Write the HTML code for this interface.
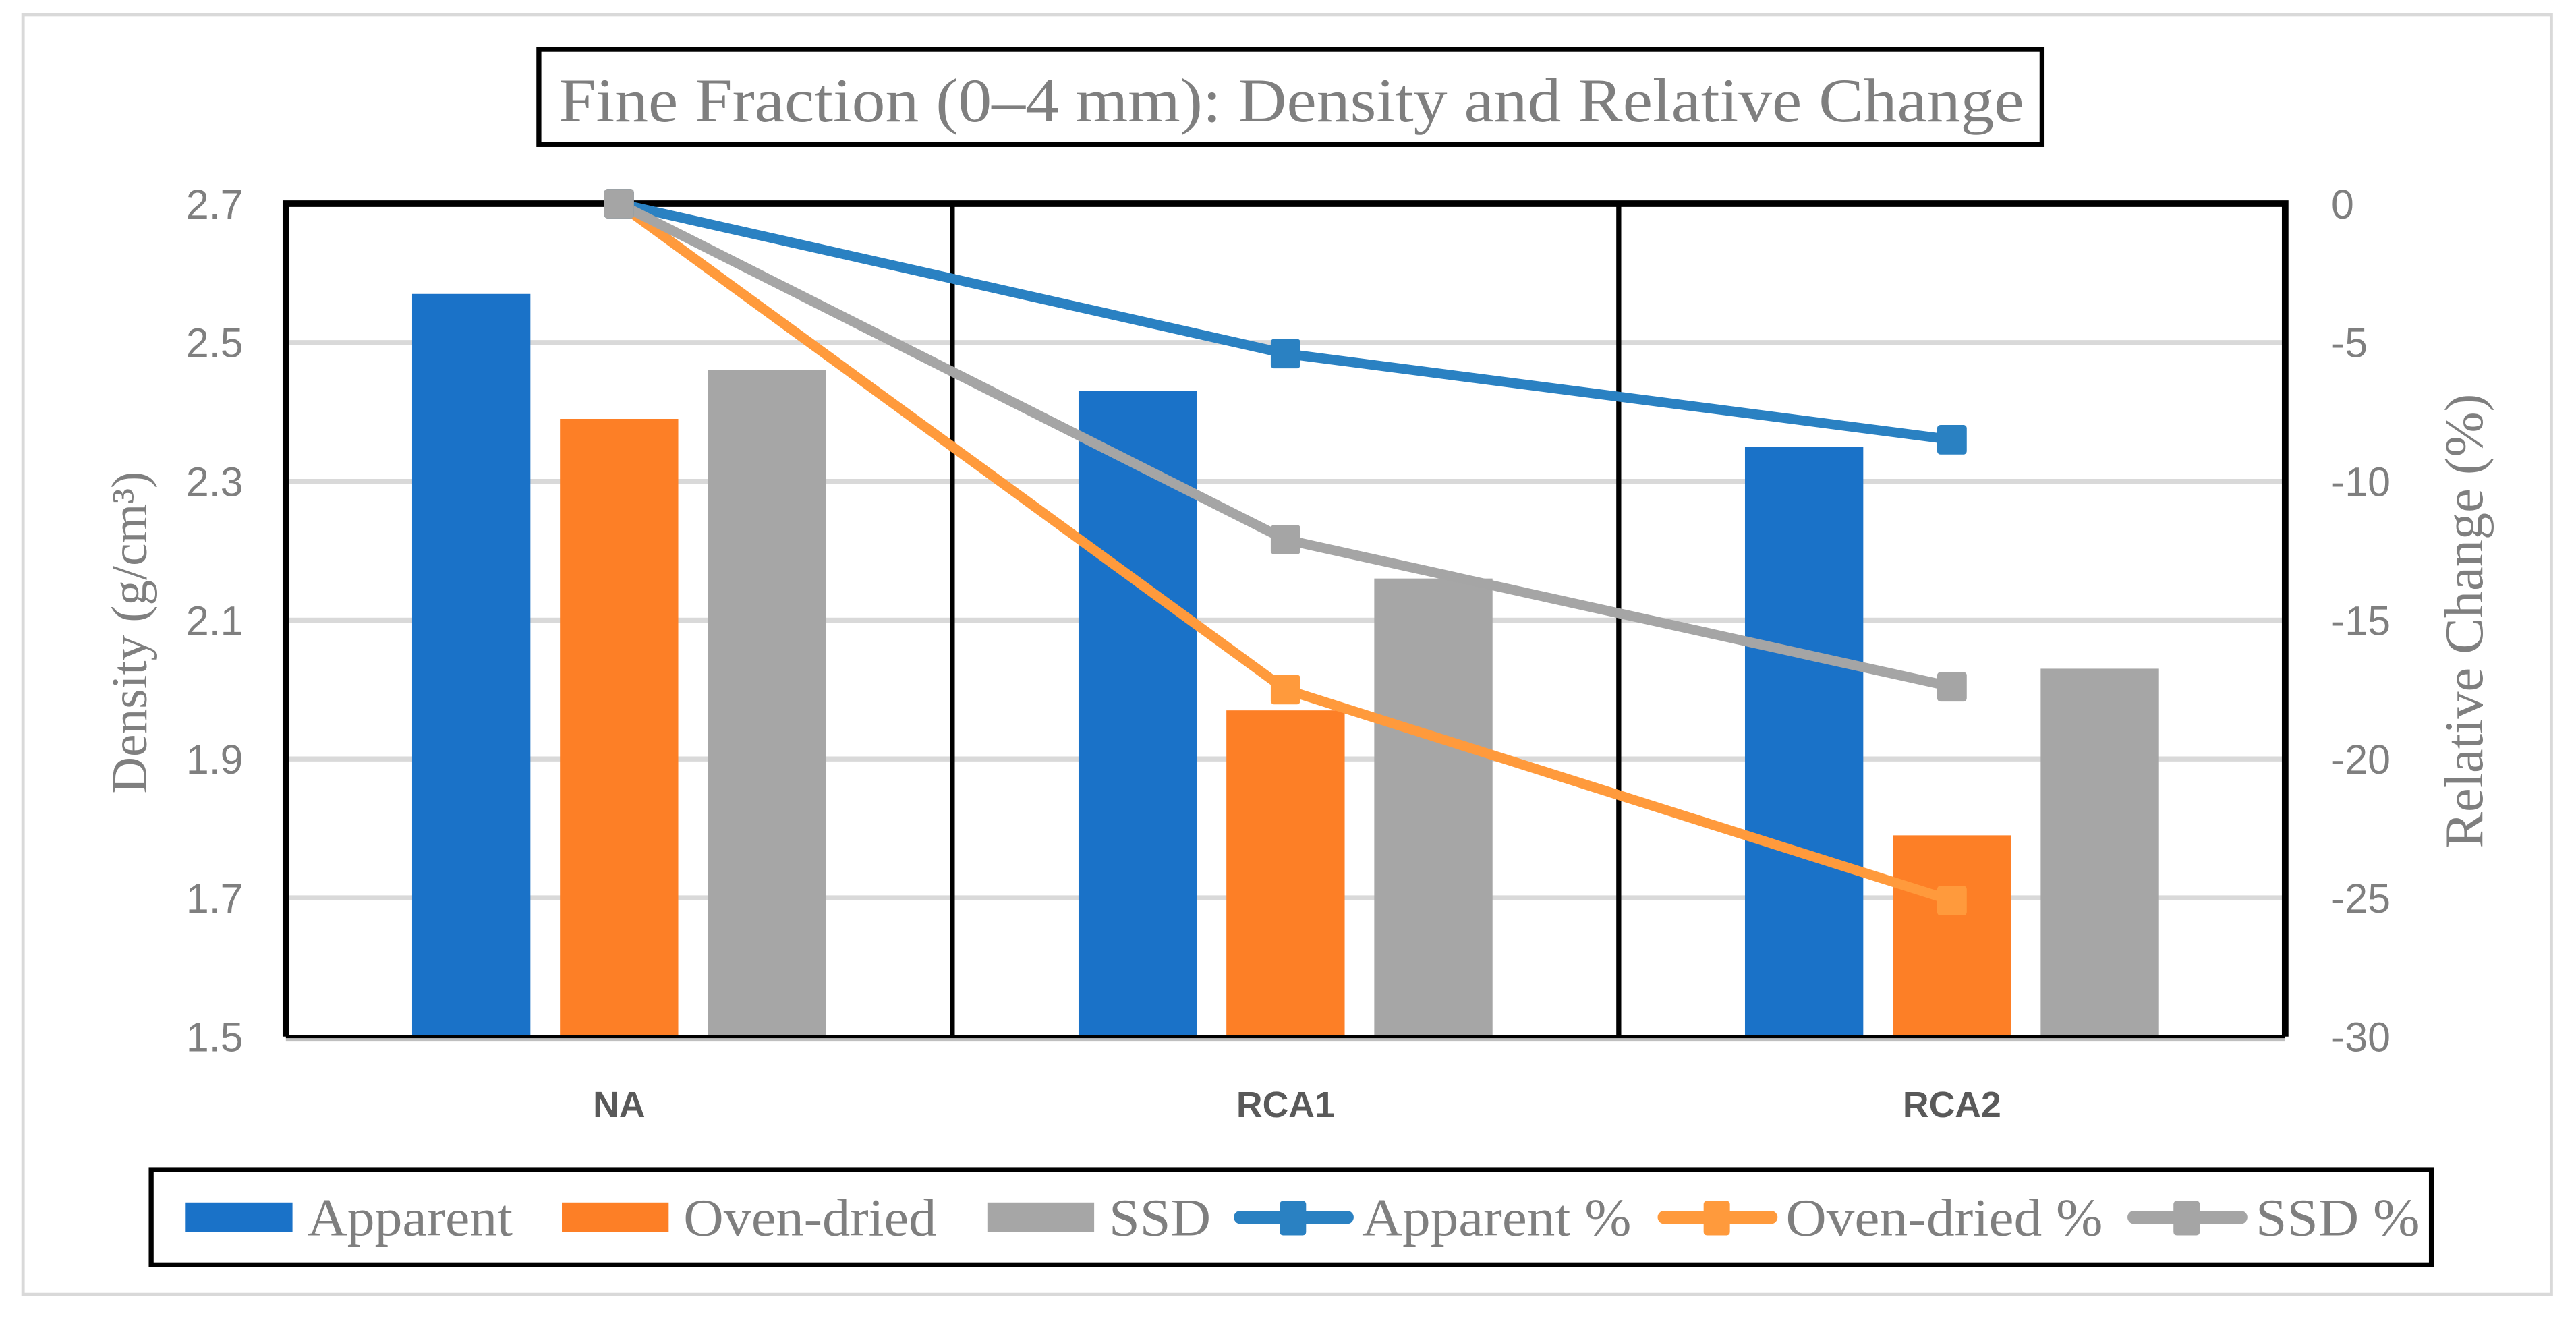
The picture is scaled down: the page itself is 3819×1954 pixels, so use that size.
<!DOCTYPE html>
<html><head><meta charset="utf-8"><style>
html,body{margin:0;padding:0;background:#fff;}
svg{display:block;}
.serif{font-family:"Liberation Serif",serif;fill:#7f7f7f;}
.tick{font-family:"Liberation Sans Narrow","Liberation Sans",sans-serif;fill:#7f7f7f;font-size:25px;}
.cat{font-family:"Liberation Sans Narrow","Liberation Sans",sans-serif;fill:#595959;font-size:22px;font-weight:bold;}
</style></head><body>
<svg id="chart" width="3819" height="1954" viewBox="0 0 1568 802.3" xmlns="http://www.w3.org/2000/svg">
<rect x="14" y="9" width="1539" height="779" fill="#fff" stroke="#d9d9d9" stroke-width="2"/>
<rect x="328" y="30" width="915" height="58" fill="#fff" stroke="#000" stroke-width="3"/>
<text class="serif" x="340" y="74" font-size="38" textLength="892" lengthAdjust="spacingAndGlyphs">Fine Fraction (0–4 mm): Density and Relative Change</text>
<g id="grid"></g>
<g id="bars"></g>
<g id="frame"></g>
<g id="lines"></g>
<g id="axes"></g>
<text class="serif" font-size="31" text-anchor="middle" transform="translate(89,385) rotate(-90)">Density (g/cm³)</text>
<text class="serif" font-size="33" text-anchor="middle" transform="translate(1511,378) rotate(-90)">Relative Change (%)</text>
<rect x="92" y="712" width="1388" height="58" fill="#fff" stroke="#000" stroke-width="3"/>
<g id="legend"></g>
</svg>
<script>
const categories = ["NA", "RCA1", "RCA2"];
const apparent = [2.57, 2.43, 2.35];
const ovenDried = [2.39, 1.97, 1.79];
const ssd = [2.46, 2.16, 2.03];
const apparentPct = [0, -5.4, -8.5];
const ovenDriedPct = [0, -17.5, -25.1];
const ssdPct = [0, -12.1, -17.4];
const leftTicks = [1.5, 1.7, 1.9, 2.1, 2.3, 2.5, 2.7];
const rightTicks = [0, -5, -10, -15, -20, -25, -30];

const NS = "http://www.w3.org/2000/svg";
const X0 = 174, X1 = 1391, Y0 = 124, Y1 = 631;
const catW = (X1 - X0) / categories.length;
function yL(v){ return Y1 - (v - 1.5) / (2.7 - 1.5) * (Y1 - Y0); }
function yR(v){ return Y0 + (0 - v) / 30 * (Y1 - Y0); }
function xC(i){ return X0 + catW * (i + 0.5); }
function mk(tag, attrs, parent){ const e = document.createElementNS(NS, tag); for (const k in attrs) e.setAttribute(k, attrs[k]); parent.appendChild(e); return e; }

const grid = document.getElementById('grid');
leftTicks.forEach(t => {
  if (t === 1.5 || t === 2.7) return;
  const l = mk('line', {x1: X0, x2: X1, y1: yL(t), y2: yL(t), stroke: '#d9d9d9', 'stroke-width': 3}, grid);
  
  
});

const bars = document.getElementById('bars');
const barSeries = [[apparent, '#1a72c8', 'apparent'], [ovenDried, '#fd7f26', 'oven-dried'], [ssd, '#a6a6a6', 'ssd']];
barSeries.forEach((s, si) => {
  s[0].forEach((v, i) => {
    const cx = xC(i) + (si - 1) * 90;
    const r = mk('rect', {x: cx - 36, y: yL(v), width: 72, height: Y1 - yL(v), fill: s[1]}, bars);
    
    
  });
});

const frame = document.getElementById('frame');
mk('line', {x1: X0, x2: X1, y1: Y1, y2: Y1, stroke: '#000', 'stroke-width': 2}, frame);
mk('line', {x1: X0, x2: X1, y1: Y1 + 2, y2: Y1 + 2, stroke: '#bfbfbf', 'stroke-width': 2}, frame);
mk('path', {d: `M${X0},${Y1} L${X0},${Y0} L${X1},${Y0} L${X1},${Y1}`, fill: 'none', stroke: '#000', 'stroke-width': 4}, frame);
for (let i = 1; i < categories.length; i++) {
  const d = mk('line', {x1: X0 + catW * i, x2: X0 + catW * i, y1: Y0, y2: Y1, stroke: '#000', 'stroke-width': 3}, frame);
  
  
}

const lines = document.getElementById('lines');
const lineSeries = [[ovenDriedPct, '#ff9a3c', 'oven-dried-pct'], [apparentPct, '#2a81c2', 'apparent-pct'], [ssdPct, '#a5a5a5', 'ssd-pct']];
lineSeries.forEach(s => {
  const pts = s[0].map((v, i) => xC(i) + ',' + yR(v)).join(' ');
  const pl = mk('polyline', {points: pts, fill: 'none', stroke: s[1], 'stroke-width': 6, 'stroke-linejoin': 'round'}, lines);
  
  
});
lineSeries.forEach(s => {
  s[0].forEach((v, i) => {
    const m = mk('rect', {x: xC(i) - 9, y: yR(v) - 9, width: 18, height: 18, rx: 2, fill: s[1]}, lines);
    
    
  });
});

const axes = document.getElementById('axes');
leftTicks.forEach(t => {
  const e = mk('text', {x: 148, y: yL(t) + 9, 'text-anchor': 'end', class: 'tick'}, axes);
  e.textContent = t.toFixed(1);
  
  
});
rightTicks.forEach(t => {
  const e = mk('text', {x: 1419, y: yR(t) + 9, 'text-anchor': 'start', class: 'tick'}, axes);
  e.textContent = String(t);
  
  
});
categories.forEach((c, i) => {
  const e = mk('text', {x: xC(i), y: 680, 'text-anchor': 'middle', class: 'cat'}, axes);
  e.textContent = c;
  
  
});

const legend = document.getElementById('legend');
const legBars = [['Apparent', '#1a72c8', 113, 125], ['Oven-dried', '#fd7f26', 342, 154], ['SSD', '#a6a6a6', 601, 62]];
legBars.forEach(l => {
  const r = mk('rect', {x: l[2], y: 732, width: 65, height: 18, fill: l[1]}, legend);
  
  
  const t = mk('text', {x: l[2] + 74, y: 752, class: 'serif', 'font-size': 32, textLength: l[3], lengthAdjust: 'spacingAndGlyphs'}, legend);
  t.textContent = l[0];
  
  
});
const legLines = [['Apparent %', '#2a81c2', 752, 164], ['Oven-dried %', '#ff9a3c', 1010, 193], ['SSD %', '#a5a5a5', 1296, 100]];
legLines.forEach(l => {
  const ln = mk('line', {x1: l[2] + 3, x2: l[2] + 68, y1: 741, y2: 741, stroke: l[1], 'stroke-width': 8, 'stroke-linecap': 'round'}, legend);
  
  
  mk('rect', {x: l[2] + 27, y: 731, width: 16, height: 21, rx: 2, fill: l[1]}, legend);
  const t = mk('text', {x: l[2] + 77, y: 752, class: 'serif', 'font-size': 32, textLength: l[3], lengthAdjust: 'spacingAndGlyphs'}, legend);
  t.textContent = l[0];
  
  
});
</script>
</body></html>
